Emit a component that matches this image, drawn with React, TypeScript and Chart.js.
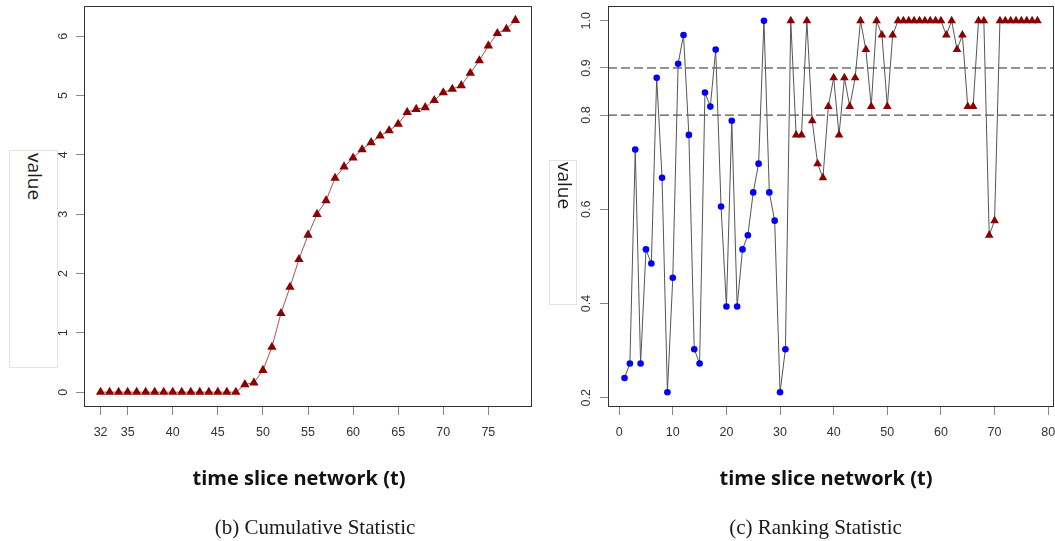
import React, { useEffect, useRef } from 'react';
import { Chart, registerables } from 'chart.js';

Chart.register(...registerables);

// ---------- (b) Cumulative Statistic ----------
const cumT = [32, 33, 34, 35, 36, 37, 38, 39, 40, 41, 42, 43, 44, 45, 46, 47, 48, 49, 50, 51, 52, 53, 54, 55, 56, 57, 58, 59, 60, 61, 62, 63, 64, 65, 66, 67, 68, 69, 70, 71, 72, 73, 74, 75, 76, 77, 78];
const cumValues = [0, 0, 0, 0, 0, 0, 0, 0, 0, 0, 0, 0, 0, 0, 0, 0, 0.13, 0.16, 0.37, 0.76, 1.33, 1.77, 2.24, 2.65, 3.0, 3.23, 3.61, 3.8, 3.95, 4.09, 4.21, 4.32, 4.41, 4.52, 4.72, 4.77, 4.8, 4.92, 5.05, 5.11, 5.17, 5.38, 5.59, 5.84, 6.05, 6.12, 6.27];
const cumXTicks = [32, 35, 40, 45, 50, 55, 60, 65, 70, 75];
const cumYTicks = [0, 1, 2, 3, 4, 5, 6];

// ---------- (c) Ranking Statistic ----------
const rankEarlyT = [1, 2, 3, 4, 5, 6, 7, 8, 9, 10, 11, 12, 13, 14, 15, 16, 17, 18, 19, 20, 21, 22, 23, 24, 25, 26, 27, 28, 29, 30, 31];
const rankEarlyValues = [0.242, 0.273, 0.727, 0.273, 0.515, 0.485, 0.879, 0.667, 0.212, 0.455, 0.909, 0.97, 0.758, 0.303, 0.273, 0.848, 0.818, 0.939, 0.606, 0.394, 0.788, 0.394, 0.515, 0.545, 0.636, 0.697, 1.0, 0.636, 0.576, 0.212, 0.303];
const rankLateT = [32, 33, 34, 35, 36, 37, 38, 39, 40, 41, 42, 43, 44, 45, 46, 47, 48, 49, 50, 51, 52, 53, 54, 55, 56, 57, 58, 59, 60, 61, 62, 63, 64, 65, 66, 67, 68, 69, 70, 71, 72, 73, 74, 75, 76, 77, 78];
const rankLateValues = [1.0, 0.758, 0.758, 1.0, 0.788, 0.697, 0.667, 0.818, 0.879, 0.758, 0.879, 0.818, 0.879, 1.0, 0.939, 0.818, 1.0, 0.97, 0.818, 0.97, 1.0, 1.0, 1.0, 1.0, 1.0, 1.0, 1.0, 1.0, 1.0, 0.97, 1.0, 0.939, 0.97, 0.818, 0.818, 1.0, 1.0, 0.545, 0.576, 1.0, 1.0, 1.0, 1.0, 1.0, 1.0, 1.0, 1.0];
const rankThresholds = [0.8, 0.9];
const rankXTicks = [0, 10, 20, 30, 40, 50, 60, 70, 80];
const rankYTicks = [0.2, 0.4, 0.6, 0.8, 0.9, 1.0];

const DARK_RED = '#8B0000';
const BLUE = '#0000FF';
const tickFont = { family: "'Liberation Sans', Arial, sans-serif", size: 12.5 };

const boxPlugin = {
  id: 'plotBox',
  afterDraw(chart: any) {
    const { ctx, chartArea } = chart;
    ctx.save();
    ctx.strokeStyle = '#333';
    ctx.lineWidth = 1;
    ctx.strokeRect(chartArea.left + 0.5, chartArea.top + 0.5, chartArea.right - chartArea.left - 1, chartArea.bottom - chartArea.top - 1);
    ctx.restore();
  },
};

const gridOpts = { display: true, drawOnChartArea: false, drawTicks: true, tickLength: 8, color: '#888', tickColor: '#888', lineWidth: 1 };

function makeXScale(min: number, max: number, ticks: number[], height: number) {
  return {
    type: 'linear',
    min,
    max,
    afterBuildTicks: (s: any) => { s.ticks = ticks.map((v) => ({ value: v })); },
    afterFit: (s: any) => { s.height = height; s.paddingLeft = 0; s.paddingRight = 0; },
    ticks: { font: tickFont, color: '#333', padding: 10, minRotation: 0, maxRotation: 0, autoSkip: false, callback: (v: any) => String(v) },
    grid: gridOpts,
    border: { display: false },
  };
}

function makeYScale(min: number, max: number, ticks: number[], width: number, pad: number, fmt: (v: number) => string) {
  return {
    type: 'linear',
    min,
    max,
    afterBuildTicks: (s: any) => { s.ticks = ticks.map((v) => ({ value: v })); },
    afterFit: (s: any) => { s.width = width; s.paddingTop = 0; s.paddingBottom = 0; },
    ticks: { font: tickFont, color: '#333', padding: pad, minRotation: 90, maxRotation: 90, crossAlign: 'center', autoSkip: false, callback: (v: any) => fmt(Number(v)) },
    grid: gridOpts,
    border: { display: false },
  };
}

function CumulativeChart() {
  const ref = useRef<HTMLCanvasElement>(null);
  useEffect(() => {
    const chart = new Chart(ref.current as HTMLCanvasElement, {
      type: 'scatter',
      data: {
        datasets: [
          {
            data: cumT.map((t, i) => ({ x: t, y: cumValues[i] })),
            showLine: true,
            borderColor: 'rgba(150, 20, 20, 0.75)',
            borderWidth: 1,
            pointStyle: 'triangle',
            pointRadius: 5.4,
            pointBackgroundColor: DARK_RED,
            pointBorderColor: DARK_RED,
            pointBorderWidth: 0,
          },
        ],
      },
      options: {
        responsive: false,
        animation: false,
        devicePixelRatio: 1,
        layout: { padding: { left: 0, top: 6, right: 8, bottom: 0 } },
        plugins: { legend: { display: false }, tooltip: { enabled: false } },
        scales: {
          x: makeXScale(30.16, 79.84, cumXTicks, 134),
          y: makeYScale(-0.25, 6.51, cumYTicks, 84, 9, (v) => String(v)),
        },
      } as any,
      plugins: [boxPlugin],
    });
    return () => chart.destroy();
  }, []);
  return <canvas ref={ref} width={540} height={541} style={{ position: 'absolute', left: 0, top: 0 }} />;
}

function RankingChart() {
  const ref = useRef<HTMLCanvasElement>(null);
  useEffect(() => {
    const allT = rankEarlyT.concat(rankLateT);
    const allV = rankEarlyValues.concat(rankLateValues);
    const xMin = -2.08;
    const xMax = 81.08;
    const chart = new Chart(ref.current as HTMLCanvasElement, {
      type: 'scatter',
      data: {
        datasets: [
          {
            data: rankEarlyT.map((t, i) => ({ x: t, y: rankEarlyValues[i] })),
            showLine: false,
            pointStyle: 'circle',
            pointRadius: 3.3,
            pointBackgroundColor: BLUE,
            pointBorderColor: BLUE,
            pointBorderWidth: 0,
            order: 0,
          },
          {
            data: rankLateT.map((t, i) => ({ x: t, y: rankLateValues[i] })),
            showLine: false,
            pointStyle: 'triangle',
            pointRadius: 5,
            pointBackgroundColor: DARK_RED,
            pointBorderColor: DARK_RED,
            pointBorderWidth: 0,
            order: 0,
          },
          {
            data: allT.map((t, i) => ({ x: t, y: allV[i] })),
            showLine: true,
            borderColor: '#555',
            borderWidth: 1,
            pointRadius: 0,
            order: 1,
          },
          ...rankThresholds.map((th) => ({
            data: [{ x: xMin, y: th }, { x: xMax, y: th }],
            showLine: true,
            borderColor: '#111',
            borderWidth: 0.9,
            borderDash: [9, 4],
            pointRadius: 0,
            order: 2,
          })),
        ],
      },
      options: {
        responsive: false,
        animation: false,
        devicePixelRatio: 1,
        layout: { padding: { left: 0, top: 6, right: 16, bottom: 0 } },
        plugins: { legend: { display: false }, tooltip: { enabled: false } },
        scales: {
          x: makeXScale(xMin, xMax, rankXTicks, 134),
          y: makeYScale(0.1806, 1.0315, rankYTicks, 68, 4.5, (v) => v.toFixed(1)),
        },
      } as any,
      plugins: [boxPlugin],
    });
    return () => chart.destroy();
  }, []);
  return <canvas ref={ref} width={530} height={541} style={{ position: 'absolute', left: 540, top: 0 }} />;
}

const labelBox = (left: number, top: number, w: number, h: number): React.CSSProperties => ({
  position: 'absolute', left, top, width: w, height: h, border: '1px solid #e3e3e3', boxSizing: 'border-box', background: '#fff',
});
const valueText = (left: number, top: number): React.CSSProperties => ({
  position: 'absolute', left, top, writingMode: 'vertical-rl', fontFamily: "'Open Sans', sans-serif", fontSize: 19, lineHeight: '19px', color: '#1a1a1a', whiteSpace: 'nowrap',
});
const titleStyle = (center: number): React.CSSProperties => ({
  position: 'absolute', left: center - 200, width: 400, top: 465, height: 26, lineHeight: '26px', textAlign: 'center',
  fontFamily: "'Open Sans', sans-serif", fontWeight: 700, fontSize: 20, color: '#111', whiteSpace: 'nowrap',
});
const captionStyle = (center: number): React.CSSProperties => ({
  position: 'absolute', left: center - 200, width: 400, top: 514, height: 26, lineHeight: '26px', textAlign: 'center',
  fontFamily: "'Liberation Serif', 'Times New Roman', serif", fontSize: 21, color: '#1a1a1a', whiteSpace: 'nowrap',
});

export default function App() {
  return (
    <div style={{ position: 'fixed', left: 0, top: 0, width: 1055, height: 541, background: '#fff', overflow: 'hidden' }}>
      <CumulativeChart />
      <RankingChart />
      <div style={labelBox(9, 150, 49, 218)} />
      <div style={valueText(24.6, 153)}>value</div>
      <div style={labelBox(549, 160, 28, 145)} />
      <div style={valueText(554.6, 162)}>value</div>
      <div style={titleStyle(299)}>time slice network (t)</div>
      <div style={titleStyle(826)}>time slice network (t)</div>
      <div style={captionStyle(315)}>(b) Cumulative Statistic</div>
      <div style={captionStyle(815.5)}>(c) Ranking Statistic</div>
    </div>
  );
}
